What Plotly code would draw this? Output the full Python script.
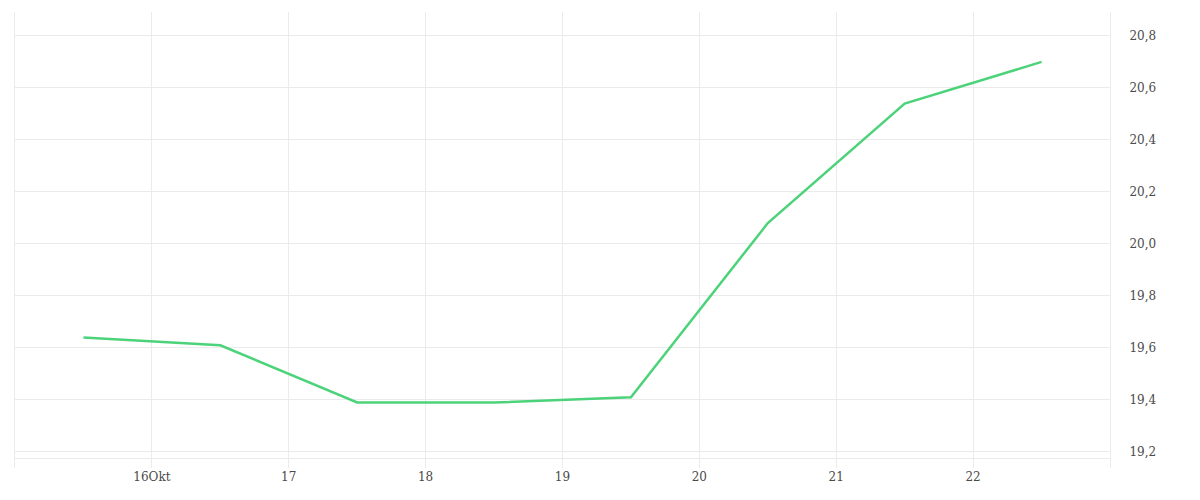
import plotly.graph_objects as go

dates = ["2023-10-15 12:00", "2023-10-16 12:00", "2023-10-17 12:00", "2023-10-18 12:00",
         "2023-10-19 12:00", "2023-10-20 12:00", "2023-10-21 12:00", "2023-10-22 12:00"]
values = [19.64, 19.61, 19.39, 19.39, 19.41, 20.08, 20.54, 20.70]

x_tick_vals = ["2023-10-16", "2023-10-17", "2023-10-18", "2023-10-19",
               "2023-10-20", "2023-10-21", "2023-10-22"]
x_tick_text = ["16Okt", "17", "18", "19", "20", "21", "22"]
y_tick_vals = [19.2, 19.4, 19.6, 19.8, 20.0, 20.2, 20.4, 20.6, 20.8]
y_tick_text = ["19,2", "19,4", "19,6", "19,8", "20,0", "20,2", "20,4", "20,6", "20,8"]

grid = "#ebebeb"
fig = go.Figure(go.Scatter(
    x=dates, y=values, mode="lines",
    line=dict(color="#4cd37a", width=2.5),
    hoverinfo="x+y",
))

fig.update_layout(
    width=1200, height=500,
    margin=dict(l=7, r=98, t=4, b=40),
    plot_bgcolor="white", paper_bgcolor="white",
    font=dict(family="DejaVu Serif, serif", size=12, color="#4a4a4a"),
    showlegend=False,
    xaxis=dict(
        range=["2023-10-15", "2023-10-23"],
        tickvals=x_tick_vals, ticktext=x_tick_text,
        showgrid=True, gridcolor=grid, gridwidth=1,
        showline=False,
        ticks="", zeroline=False,
    ),
    yaxis=dict(
        side="right",
        range=[19.138, 20.892],
        tickvals=y_tick_vals, ticktext=y_tick_text,
        showgrid=True, gridcolor=grid, gridwidth=1,
        showline=True, linecolor=grid, mirror=True,
        ticks="", zeroline=False,
        ticklabelstandoff=16,
    ),
    shapes=[dict(type="line", xref="paper", yref="paper", x0=0, x1=1,
                 y0=(458.5 - 468) / -456, y1=(458.5 - 468) / -456,
                 line=dict(color=grid, width=1))],
)

fig.write_html("out.html")
